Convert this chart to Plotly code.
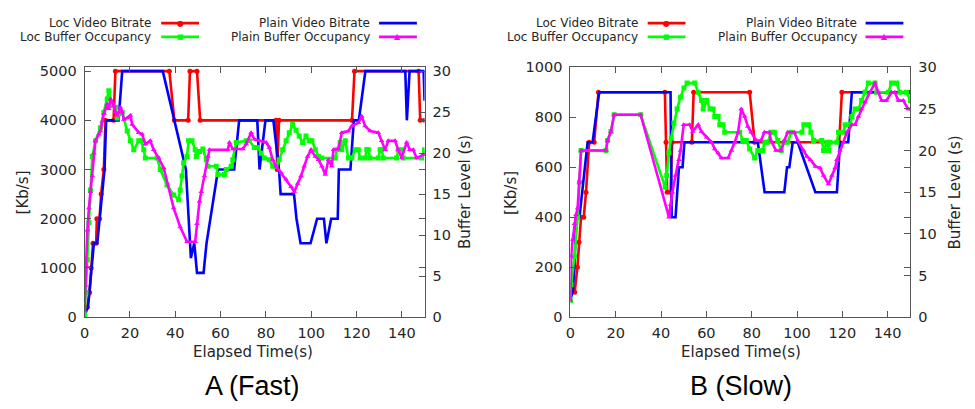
import plotly.graph_objects as go

# ---------------- Panel A (Fast) ----------------
a_loc_rate_t = [0, 1.2, 2.2, 2.9, 3.7, 5.1, 5.4, 6.6, 7.3, 8.5, 9.2, 12.8, 13.6, 37.4, 39.6, 45.7, 46.5, 49.6, 51.0,
                84.5, 85.0, 85.8, 118.0, 119.1, 147.4, 148.1, 150]
a_loc_rate_v = [100, 200, 500, 1000, 1500, 1500, 2000, 2000, 2500, 3000, 4000, 4000, 5000, 5000, 4000, 4000, 5000,
                5000, 4000, 4000, 3000, 4000, 4000, 5000, 5000, 4000, 4000]

a_plain_rate_t = [0, 1.5, 2.9, 4.1, 5.6, 6.6, 8.8, 9.5, 15.0, 16.6, 34.5, 44.7, 46.9, 48.4, 49.6, 52.5, 53.8, 58.9,
                  66.0, 68.2, 76.2, 77.2, 79.8, 83.3, 85.8, 86.5, 92.4, 93.5, 95.3, 99.7, 102.6, 105.6, 106.7, 108.8,
                  111.7, 112.2, 117.3, 118.8, 121.0, 123.9, 141.5, 142.2, 143.4, 149.6, 150]
a_plain_rate_v = [50, 200, 900, 1500, 1500, 2000, 3000, 4000, 4000, 5000, 5000, 3000, 1200, 1500, 900, 900, 1500,
                  3000, 3000, 4000, 4000, 3000, 4000, 4000, 3000, 2500, 2500, 2000, 1500, 1500, 2000, 2000, 1500,
                  2000, 2000, 3000, 3000, 4000, 4000, 5000, 5000, 4000, 5000, 5000, 4400]

a_loc_buf_t = [0, 0.6, 1.2, 1.9, 2.6, 3.4, 4.8, 7.0, 8.5, 10.0,
               10.7, 12.2, 13.6, 14.4, 16.6, 18.8, 20.2, 21.7, 23.9, 24.9,
               26.1, 26.8, 32.0, 33.4, 36.4, 39.3, 41.5, 42.2, 43.0, 43.7,
               45.2, 45.9, 47.4, 48.8, 49.3, 50.7, 52.2, 53.7, 54.4, 58.1,
               58.8, 61.7, 62.5, 64.7, 65.4, 66.9, 71.3, 72.7, 74.9, 76.4,
               77.9, 79.3, 81.5, 83.0, 84.5, 85.9, 87.4, 88.9, 90.3, 91.8,
               93.3, 94.7, 96.2, 97.7, 99.1, 100.3, 101.8, 103.2, 104.7, 110.6,
               111.3, 112.8, 113.5, 115.0, 116.4, 117.9, 119.4, 120.8, 121.6, 123.8,
               124.5, 125.2, 125.9, 129.6, 130.4, 131.1, 131.8, 137.7, 138.4, 139.9,
               140.6, 148.7, 150]
a_loc_buf_v = [0.3, 3.0, 7.0, 11.5, 15.5, 19.6, 21.5, 23.1, 25.0, 26.6,
               27.6, 25.8, 25.6, 24.3, 25.0, 22.7, 21.5, 20.4, 21.5, 21.5,
               20.4, 19.4, 19.4, 18.0, 16.1, 14.9, 14.3, 15.5, 17.2, 18.8,
               19.6, 21.5, 21.5, 20.4, 19.6, 20.2, 20.5, 19.2, 18.4, 18.4,
               17.4, 17.4, 18.0, 18.4, 19.2, 21.3, 21.5, 21.5, 20.7, 20.7,
               20.0, 19.4, 19.2, 18.4, 18.4, 19.2, 20.4, 21.5, 22.5, 23.5,
               22.8, 22.1, 21.3, 22.1, 21.5, 21.5, 20.4, 19.6, 19.4, 19.4,
               20.4, 21.3, 20.4, 21.5, 19.4, 19.4, 20.4, 20.4, 19.4, 19.4,
               20.4, 20.4, 19.4, 19.4, 20.4, 20.4, 19.4, 19.4, 20.4, 20.4,
               19.4, 19.4, 20.4]

a_plain_buf_t = [0, 0.3, 0.7, 1.2, 1.9, 2.6, 3.4, 4.1, 4.8, 6.3,
                 7.0, 7.8, 8.5, 10.0, 10.7, 11.4, 12.2, 12.9, 13.6, 14.4,
                 15.8, 16.6, 17.3, 18.8, 20.2, 21.0, 23.9, 25.4, 26.8, 29.0,
                 30.5, 32.7, 34.9, 39.3, 42.2, 45.2, 48.8, 49.6, 50.7, 51.5,
                 52.9, 54.4, 55.1, 63.2, 63.9, 65.4, 69.8, 71.3, 73.5, 74.9,
                 77.1, 80.1, 81.5, 83.0, 84.5, 86.7, 88.9, 91.1, 92.5, 94.0,
                 95.5, 96.9, 98.4, 99.9, 101.8, 103.2, 104.7, 106.2, 107.6, 109.1,
                 109.8, 112.0, 113.5, 116.4, 117.9, 120.8, 122.3, 123.8, 126.0, 129.6,
                 131.1, 132.6, 134.0, 137.0, 138.4, 139.9, 142.1, 143.5, 145.0, 146.5,
                 149.4, 150]
a_plain_buf_v = [0.8, 3.9, 6.3, 10.6, 13.3, 15.3, 17.2, 20.0, 21.5, 22.3,
                 22.7, 23.9, 24.8, 26.0, 25.4, 26.6, 26.2, 25.8, 25.0, 24.6,
                 25.6, 25.0, 24.1, 24.3, 24.6, 23.5, 22.5, 22.3, 21.1, 21.5,
                 20.4, 19.4, 18.2, 13.3, 11.0, 9.2, 9.2, 11.4, 14.1, 15.3,
                 17.2, 19.6, 20.4, 20.4, 21.3, 20.5, 20.5, 21.1, 22.5, 21.7,
                 21.5, 21.3, 20.7, 19.2, 18.4, 17.6, 16.8, 15.9, 15.3, 16.3,
                 17.2, 18.4, 19.6, 20.4, 19.6, 19.2, 18.4, 17.4, 19.2, 18.4,
                 20.4, 20.5, 22.5, 22.7, 23.3, 23.7, 24.5, 23.3, 22.7, 22.5,
                 21.5, 20.4, 21.5, 21.5, 20.4, 19.4, 21.3, 20.4, 20.4, 19.4,
                 19.8, 19.8]

# ---------------- Panel B (Slow) ----------------
b_loc_rate_t = [0, 1.9, 3.1, 3.8, 4.7, 5.9, 6.9, 8.3, 10.5, 12.4, 41.7, 42.2, 42.7, 44.2, 44.9, 53.6, 54.4,
                79.1, 81.3, 118.6, 119.8, 150]
b_loc_rate_v = [100, 100, 200, 300, 400, 400, 500, 700, 700, 900, 900, 700, 500, 500, 700, 700, 900,
                900, 700, 700, 900, 900]

b_plain_rate_t = [0, 1.0, 1.8, 2.5, 4.0, 7.6, 9.8, 12.7, 44.2, 44.7, 46.4, 47.9, 49.5, 50.3, 82.7, 84.1, 85.7,
                  94.4, 95.6, 96.6, 98.1, 100.3, 108.1, 117.6, 119.0, 122.6, 124.2, 150]
b_plain_rate_v = [70, 100, 200, 400, 400, 700, 700, 900, 900, 400, 400, 600, 600, 700, 700, 600, 500,
                  500, 600, 600, 700, 700, 500, 500, 700, 700, 900, 900]

b_loc_buf_t = [0, 0.3, 1.8, 3.2, 4.0, 4.7, 15.7, 16.4, 17.9, 19.3,
               31.0, 41.8, 42.5, 43.5, 44.5, 45.7, 47.1, 48.6, 50.1, 51.5,
               54.9, 56.4, 57.9, 58.6, 60.1, 61.6, 63.0, 63.7, 65.2, 65.9,
               67.4, 68.1, 74.7, 76.1, 77.6, 79.1, 81.3, 82.7, 84.9, 85.7,
               87.1, 88.6, 90.0, 91.5, 93.0, 94.4, 95.9, 97.4, 102.2, 103.0,
               105.1, 106.1, 107.3, 110.9, 111.7, 113.2, 113.9, 114.6, 117.6, 118.3,
               120.5, 121.2, 123.4, 124.2, 125.6, 127.1, 128.5, 130.0, 131.5, 134.4,
               135.1, 140.3, 141.7, 143.9, 145.4, 148.3, 150]
b_loc_buf_v = [2.0, 3.9, 7.3, 12.0, 16.2, 20.0, 20.0, 21.2, 22.3, 24.3,
               24.3, 15.6, 17.0, 19.7, 21.5, 23.3, 25.0, 26.4, 27.5, 28.1,
               28.1, 27.0, 26.0, 25.0, 26.0, 25.0, 25.0, 24.1, 24.1, 23.1,
               23.1, 22.2, 22.2, 21.2, 21.2, 20.2, 19.1, 20.0, 20.0, 21.0,
               21.0, 22.2, 22.2, 21.2, 20.0, 21.0, 21.0, 22.2, 22.2, 23.1,
               23.1, 22.2, 21.2, 21.2, 20.0, 21.0, 20.0, 21.0, 21.0, 22.2,
               22.2, 23.1, 23.1, 24.1, 25.0, 25.0, 26.0, 27.0, 28.1, 28.1,
               27.0, 27.0, 28.1, 28.1, 27.0, 27.0, 26.0]

b_plain_buf_t = [0, 0.3, 1.0, 1.8, 2.5, 3.2, 4.0, 4.7, 15.7, 16.4,
                 17.9, 19.3, 31.0, 43.5, 44.2, 45.0, 46.4, 47.9, 48.6, 50.0,
                 52.6, 54.0, 56.4, 57.8, 60.1, 62.3, 63.7, 65.2, 66.6, 69.6,
                 71.1, 72.5, 74.0, 75.4, 76.9, 78.3, 79.8, 82.0, 84.1, 85.6,
                 87.8, 88.5, 90.7, 92.9, 94.4, 95.9, 98.8, 100.3, 102.9, 104.4,
                 105.9, 108.1, 110.2, 111.7, 113.9, 115.4, 116.8, 117.6, 119.0, 120.5,
                 122.0, 124.2, 125.6, 127.1, 128.5, 130.0, 132.2, 134.4, 135.9, 137.3,
                 139.5, 141.7, 143.2, 144.7, 146.9, 149.0, 150]
b_plain_buf_v = [2.0, 7.3, 9.3, 11.2, 12.3, 13.1, 16.2, 20.0, 20.0, 21.2,
                 22.3, 24.3, 24.3, 12.0, 13.5, 15.0, 17.0, 18.9, 20.0, 23.1,
                 23.1, 22.3, 23.1, 22.3, 21.6, 21.0, 20.2, 19.7, 19.1, 19.1,
                 20.0, 21.0, 22.2, 25.0, 24.1, 22.9, 22.2, 21.2, 21.2, 22.2,
                 22.2, 21.2, 20.0, 20.0, 21.2, 22.2, 22.2, 21.2, 20.0, 19.3,
                 18.9, 18.1, 17.9, 17.0, 16.0, 17.0, 17.9, 18.9, 20.0, 21.0,
                 22.2, 23.1, 23.1, 24.1, 25.0, 25.8, 27.0, 28.1, 27.0, 26.0,
                 26.0, 27.0, 27.0, 26.0, 26.0, 25.0, 25.0]

x_ticks = [0, 20, 40, 60, 80, 100, 120, 140]
a_rate_ticks = [0, 1000, 2000, 3000, 4000, 5000]
b_rate_ticks = [0, 200, 400, 600, 800, 1000]
buf_ticks = [0, 5, 10, 15, 20, 25, 30]

series_names = ["Loc Video Bitrate", "Loc Buffer Occupancy", "Plain Video Bitrate", "Plain Buffer Occupancy"]
panel_titles = ["A (Fast)", "B (Slow)"]

RED, GREEN, BLUE, MAG = "#ff0000", "#00ff00", "#0000ff", "#ff00ff"
W, H = 975, 409
FONT = "DejaVu Sans"
TXT = "#262626"
AX = "#555555"

fig = go.Figure()


def add(t, v, color, xa, ya, symbol, size, name):
    kw = dict(mode="lines")
    if symbol:
        kw = dict(mode="lines+markers", marker=dict(symbol=symbol, size=size, color=color, line=dict(width=0)))
    fig.add_trace(go.Scatter(x=t, y=v, name=name, line=dict(color=color, width=2.6),
                             xaxis=xa, yaxis=ya, showlegend=False, **kw))


# panel A
add(a_loc_rate_t, a_loc_rate_v, RED, "x", "y", "circle", 5, series_names[0])
add(a_plain_rate_t, a_plain_rate_v, BLUE, "x", "y", None, 0, series_names[2])
add(a_loc_buf_t, a_loc_buf_v, GREEN, "x", "y2", "square", 5, series_names[1])
add(a_plain_buf_t, a_plain_buf_v, MAG, "x", "y2", "triangle-up", 5, series_names[3])
# panel B
add(b_loc_rate_t, b_loc_rate_v, RED, "x2", "y3", "circle", 5, series_names[0])
add(b_plain_rate_t, b_plain_rate_v, BLUE, "x2", "y3", None, 0, series_names[2])
add(b_loc_buf_t, b_loc_buf_v, GREEN, "x2", "y4", "square", 5, series_names[1])
add(b_plain_buf_t, b_plain_buf_v, MAG, "x2", "y4", "triangle-up", 5, series_names[3])

ydom = [1 - 321.7 / H, 1 - 61.7 / H]
tickfont = dict(family=FONT, size=14.5, color=TXT)


def xax(domain, anchor):
    return dict(domain=domain, anchor=anchor, range=[0, 150], tickvals=x_ticks, ticks="inside", ticklen=6,
                tickcolor=AX, showline=True, linecolor=AX, linewidth=1, mirror="ticks", showgrid=False,
                zeroline=False, tickfont=tickfont, ticklabelstandoff=2)


def yax(rng, ticks, anchor, side="left", overlay=None, mirror="ticks"):
    d = dict(range=rng, tickvals=ticks, ticks="inside", ticklen=6, tickcolor=AX, showline=True,
             linecolor=AX, linewidth=1, showgrid=False, zeroline=False, tickfont=tickfont, side=side,
             anchor=anchor, ticklabelstandoff=4)
    if overlay:
        d["overlaying"] = overlay
    else:
        d["domain"] = ydom
        d["mirror"] = mirror
    return d


fig.update_layout(
    width=W, height=H, margin=dict(l=0, r=0, t=0, b=0),
    paper_bgcolor="white", plot_bgcolor="white", showlegend=False,
    xaxis=xax([80 / W, 421.7 / W], "y"),
    yaxis=yax([0, 5078], a_rate_ticks, "x"),
    yaxis2=yax([0, 30.47], buf_ticks, "x", side="right", overlay="y"),
    xaxis2=xax([568.3 / W, 910 / W], "y3"),
    yaxis3=yax([0, 1000], b_rate_ticks, "x2"),
    yaxis4=yax([0, 30], buf_ticks, "x2", side="right", overlay="y3"),
)

annotations = []
shapes = []


def px(x):
    return x / W


def py(y):
    return 1 - y / H


colors = [RED, GREEN, BLUE, MAG]
sym = ["●", "■", None, "▲"]
sym_size = [8, 7, 0, 8]
for off, title, cx, ylab_x, buf_x in [(0, panel_titles[0], 249, 19, 463), (489, panel_titles[1], 740, 509, 955)]:
    # legend (gnuplot style: text then sample)
    for i, name in enumerate(series_names):
        col = i // 2
        row = i % 2
        text_r = [149, 369][col] + off
        l0, l1 = [157, 376][col] + off, [195, 414][col] + off
        yy = [15.7, 30][row]
        annotations.append(dict(x=px(text_r), y=py(yy), xref="paper", yref="paper", text=name, showarrow=False,
                                xanchor="right", yanchor="middle", font=dict(family=FONT, size=12, color=TXT)))
        shapes.append(dict(type="line", xref="paper", yref="paper", x0=px(l0), x1=px(l1), y0=py(yy), y1=py(yy),
                           line=dict(color=colors[i], width=2.6)))
        if sym[i]:
            annotations.append(dict(x=px((l0 + l1) / 2), y=py(yy), xref="paper", yref="paper", text=sym[i],
                                    showarrow=False, xanchor="center", yanchor="middle",
                                    font=dict(family=FONT, size=sym_size[i], color=colors[i])))
    # axis titles
    annotations.append(dict(x=px(ylab_x), y=py(192), xref="paper", yref="paper", text="[Kb/s]", textangle=-90,
                            showarrow=False, xanchor="center", yanchor="middle",
                            font=dict(family=FONT, size=15, color=TXT)))
    annotations.append(dict(x=px(buf_x), y=py(192), xref="paper", yref="paper", text="Buffer Level (s)",
                            textangle=-90, showarrow=False, xanchor="center", yanchor="middle",
                            font=dict(family=FONT, size=15, color=TXT)))
    annotations.append(dict(x=px(cx), y=py(358), xref="paper", yref="paper", text="Elapsed Time(s)",
                            showarrow=False, xanchor="center", yanchor="middle",
                            font=dict(family=FONT, size=15, color=TXT)))
    annotations.append(dict(x=px(cx), y=py(393), xref="paper", yref="paper", text=title,
                            showarrow=False, xanchor="center", yanchor="middle",
                            font=dict(family="Liberation Sans", size=27, color="#000000")))

fig.update_layout(annotations=annotations, shapes=shapes)
fig.write_html("out.html")
